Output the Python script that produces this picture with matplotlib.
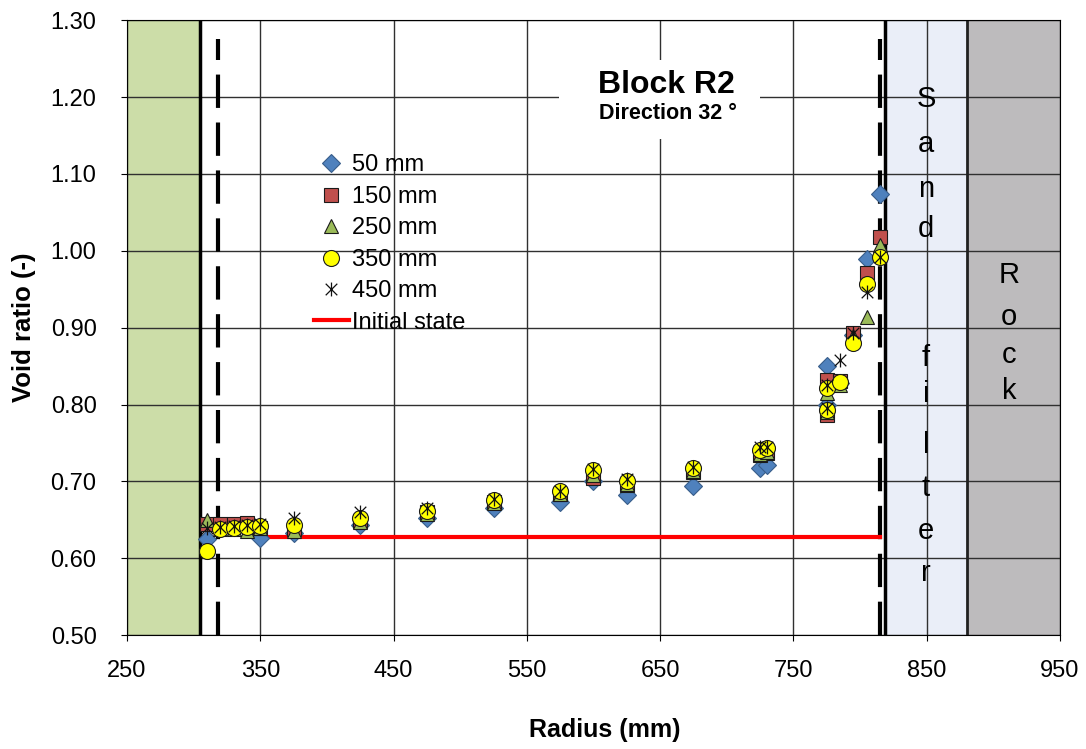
import matplotlib
matplotlib.use("Agg")
import matplotlib.pyplot as plt
from matplotlib.path import Path
from matplotlib.patches import Rectangle

plt.rcParams["font.family"] = ["Liberation Sans", "DejaVu Sans"]

# radius positions (mm) of the measurement points
radius = [310, 320, 330, 340, 350, 375, 425, 475, 525, 575, 600, 625, 675,
          725, 730, 775, 775, 785, 795, 805, 815]

# void ratio per sampling depth
e_50 = [0.625, 0.640, 0.641, 0.642, 0.627, 0.633, 0.643, 0.652, 0.665, 0.673, 0.700,
        0.682, 0.694, 0.717, 0.721, 0.850, 0.800, 0.828, 0.890, 0.989, 1.074]
e_150 = [0.645, 0.645, 0.645, 0.646, 0.640, 0.638, 0.648, 0.660, 0.673, 0.683, 0.705,
         0.695, 0.712, 0.735, 0.737, 0.832, 0.786, 0.830, 0.893, 0.971, 1.018]
e_250 = [0.650, 0.638, 0.638, 0.636, 0.639, 0.636, 0.647, 0.658, 0.672, 0.683, 0.708,
         0.697, 0.713, 0.736, 0.738, 0.815, 0.790, 0.826, 0.889, 0.914, 1.007]
e_350 = [0.610, 0.638, 0.640, 0.641, 0.642, 0.643, 0.652, 0.662, 0.676, 0.687, 0.715,
         0.700, 0.717, 0.741, 0.743, 0.821, 0.793, 0.829, 0.880, 0.957, 0.992]
e_450 = [0.640, 0.641, 0.642, 0.643, 0.644, 0.652, 0.660, 0.665, 0.677, 0.688, 0.716,
         0.703, 0.719, 0.745, 0.745, 0.826, 0.796, 0.858, 0.893, 0.946, 0.992]

init_x = [350, 815]
init_e = [0.628, 0.628]

# zone boundaries (mm)
bentonite_edge = 305
inner_dash = 318
outer_dash = 815
filter_inner = 819
rock_edge = 880

# Excel-style star: X plus a vertical bar
star = Path([(-1, -1), (1, 1), (-1, 1), (1, -1), (0, -1.2), (0, 1.2)],
            [Path.MOVETO, Path.LINETO] * 3)

fig = plt.figure(figsize=(10.86, 7.49), dpi=100)
ax = fig.add_axes([0.117, 0.152, 0.859, 0.821])

ax.axvspan(250, bentonite_edge, color="#CCDDA8", zorder=0.1, lw=0)
ax.axvspan(filter_inner, rock_edge, color="#EAEEF8", zorder=0.1, lw=0)
ax.axvspan(rock_edge, 950, color="#BDBBBD", zorder=0.1, lw=0)

ax.set_axisbelow(True)
ax.grid(True, color="#303030", lw=1.0)

ax.axvline(bentonite_edge, color="black", lw=2.5, zorder=2)
ax.axvline(filter_inner, color="black", lw=2.5, zorder=2)
ax.axvline(rock_edge, color="#202020", lw=2.0, zorder=2)
ax.axvline(inner_dash, ymin=0.0, ymax=0.97, color="black", lw=3, dashes=(8, 3.5), zorder=2)
ax.axvline(outer_dash, ymin=0.0, ymax=0.97, color="black", lw=3, dashes=(8, 3.5), zorder=2)

ax.plot(init_x, init_e, color="#FF0000", lw=3, zorder=3, label="Initial state")

ax.plot(radius, e_50, ls="none", marker="D", ms=9, mfc="#4F81BD", mec="#385D8A",
        mew=0.8, zorder=4, label="50 mm")
ax.plot(radius, e_150, ls="none", marker="s", ms=10.5, mfc="#C0504D", mec="#1a1a1a",
        mew=0.8, zorder=5, label="150 mm")
ax.plot(radius, e_250, ls="none", marker="^", ms=10.5, mfc="#9BBB59", mec="#1a1a1a",
        mew=0.8, zorder=6, label="250 mm")
ax.plot(radius, e_350, ls="none", marker="o", ms=11.5, mfc="#FFFF00", mec="#1a1a1a",
        mew=0.8, zorder=7, label="350 mm")
ax.plot(radius, e_450, ls="none", marker=star, ms=10, color="#111111", mew=0.9,
        zorder=8, label="450 mm")

# title box
ax.add_patch(Rectangle((574, 1.145), 151, 0.103, facecolor="white", edgecolor="none", zorder=2.5))
ax.text(655, 1.216, "Block R2", ha="center", va="center", fontsize=23, fontweight="bold", zorder=3)
ax.text(655.5, 1.179, "Direction 32 °", ha="center", va="center", fontsize=15.5, fontweight="bold", zorder=3)

# zone labels written letter by letter
sand_y = [1.198, 1.139, 1.080, 1.028, 0.861, 0.814, 0.748, 0.692, 0.635, 0.581]
for ch, yy in zip("Sandfilter", sand_y):
    ax.text(849.5, yy, ch, ha="center", va="center", fontsize=21, zorder=3)
rock_y = [0.968, 0.914, 0.865, 0.818]
for ch, yy in zip("Rock", rock_y):
    ax.text(912, yy, ch, ha="center", va="center", fontsize=21, zorder=3)

ax.set_xlim(250, 950)
ax.set_ylim(0.5, 1.3)
ax.set_xticks(range(250, 951, 100))
ax.set_yticks([0.5 + 0.1 * i for i in range(9)])
ax.yaxis.set_major_formatter(matplotlib.ticker.FormatStrFormatter("%.2f"))
ax.tick_params(labelsize=17, length=4)
ax.tick_params(axis="x", pad=14)
ax.tick_params(axis="y", pad=18)
ax.set_xlabel("Radius (mm)", fontsize=18, fontweight="bold")
ax.xaxis.set_label_coords(0.512, -0.135)
ax.set_ylabel("Void ratio (-)", fontsize=18.5, fontweight="bold")
ax.yaxis.set_label_coords(-0.098, 0.5)

handles, labels = ax.get_legend_handles_labels()
order = [1, 2, 3, 4, 5, 0]
leg = ax.legend([handles[i] for i in order], [labels[i] for i in order],
                loc="upper left", bbox_to_anchor=(0.19, 0.797), frameon=False,
                fontsize=17, handlelength=1.5, handletextpad=0.1, labelspacing=0.4,
                borderaxespad=0)
leg.set_zorder(9)

fig.savefig("out.png", dpi=100)
